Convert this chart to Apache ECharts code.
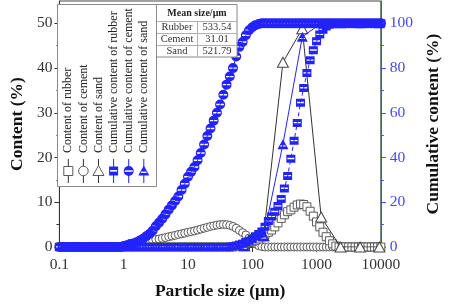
<!DOCTYPE html>
<html>
<head>
<meta charset="utf-8">
<script src="https://cdn.jsdelivr.net/npm/echarts@6/dist/echarts.min.js"></script>
<style>html,body{margin:0;padding:0;background:#fff}#c{width:450px;height:305px}</style>
</head>
<body>
<div id="c"></div>
<script>
// particle sizes (μm)
const sizes = [
0.1,0.112,0.126,0.141,0.158,0.178,0.2,0.224,0.251,0.282,
0.316,0.355,0.398,0.447,0.501,0.562,0.631,0.708,0.794,0.891,
1,1.12,1.26,1.41,1.58,1.78,2,2.24,2.51,2.82,
3.16,3.55,3.98,4.47,5.01,5.62,6.31,7.08,7.94,8.91,
10,11.2,12.6,14.1,15.8,17.8,20,22.4,25.1,28.2,
31.6,35.5,39.8,44.7,50.1,56.2,63.1,70.8,79.4,89.1,
100,112,126,141,158,178,200,224,251,282,
316,355,398,447,501,562,631,708,794,891,
1000,1122,1259,1413,1585,1778,1995,2239,2512,2818,
3162,3548,3981,4467,5012,5623,6310,7079,7943,8913,
10000];
const rubberContent = [
0,0,0,0,0,0,0,0,0,0,
0,0,0,0,0,0,0,0,0,0,
0,0,0,0,0,0,0,0,0,0,
0,0,0,0,0,0,0,0,0,0,
0,0,0,0,0,0,0,0,0,0,
0,0,0,0,0,0.2,0.4,0.6,0.8,1.0,
1.2,1.5,1.8,2.3,2.8,3.3,3.8,4.5,5.4,6.4,
7.2,7.9,8.3,8.9,9.4,9.6,9.5,9.0,8.0,6.9,
5.6,4.5,3.3,2.3,1.4,0.7,0.2,0,0,0,
0,0,0,0,0,0,0,0,0,0,
0];
const cementContent = [
0,0,0,0,0,0,0,0,0,0,
0,0,0,0,0,0,0,0,0,0,
0.2,0.3,0.4,0.5,0.6,0.7,0.85,1.05,1.25,1.5,
1.7,1.8,1.95,2.1,2.3,2.45,2.6,2.8,2.95,3.1,
3.3,3.45,3.6,3.8,4.0,4.2,4.4,4.6,4.75,4.9,
5.0,5.05,5.0,4.85,4.6,4.2,3.7,3.2,2.7,2.0,
1.3,0.7,0.3,0.1,0,0,0,0,0,0,
0,0,0,0,0,0,0,0,0,0,
0,0,0,0,0,0,0,0,0,0,
0,0,0,0,0,0,0,0,0,0,
0];
const rubberCum = [
0,0,0,0,0,0,0,0,0,0,
0,0,0,0,0,0,0,0,0,0,
0,0,0,0,0,0,0,0,0,0,
0,0,0,0,0,0,0,0,0,0,
0,0,0,0,0,0,0,0,0,0,
0,0,0,0.1,0.3,0.6,1.0,1.5,2.2,2.8,
3.6,4.8,5.8,6.9,9.0,11.6,13.6,15.8,18.3,21.5,
26.2,31.8,39.5,47.5,55.5,64.5,71.1,77.8,83.5,88.0,
92.0,95.0,97.2,98.6,99.4,99.8,100,100,100,100,
100,100,100,100,100,100,100,100,100,100,
100];
const cementCum = [
0,0,0,0,0,0,0,0,0,0,
0,0,0,0,0,0,0,0,0,0,
0.5,0.8,1.3,1.6,2.1,2.9,3.7,4.8,5.8,7.3,
9.3,10.9,12.6,14.6,16.7,18.6,20.6,22.6,25.5,28.3,
31.4,33.6,35.8,38.8,42.0,45.8,49.6,53.0,56.5,60.0,
63.7,68.1,72.6,76.2,80.0,85.2,89.5,91.7,94.7,96.9,
98.3,99.2,99.7,100,100,100,100,100,100,100,
100,100,100,100,100,100,100,100,100,100,
100,100,100,100,100,100,100,100,100,100,
100,100,100,100,100,100,100,100,100,100,
100];
const sandSizes = [75,150,300,600,1180,2360,4750,9500];
const sandContent = [0.3,2.5,41.3,48.8,6.7,0,0,0];
const sandCum = [0.3,4.8,46,94,100,100,100,100];

const seriesNames = ['Content of rubber','Content of cement','Content of sand',
  'Cumulative content of rubber','Cumulative content of cement','Cumulative content of sand'];
const xTicks = [0.1,1,10,100,1000,10000];
const leftTicks = [0,10,20,30,40,50];
const rightTicks = [0,20,40,60,80,100];
const tableRows = [['Rubber','533.54'],['Cement','31.01'],['Sand','521.79']];
const tableTitle = 'Mean size/μm';

const FONT = "'Liberation Serif','Times New Roman',serif";
const BLUE = '#2323ff';
const AXBLUE = '#4646ff';
const GRAY = '#5a5a5a';

const SQ = 'path://M0,0 L10,0 L10,10 L0,10 Z M1.2,3.9 L1.2,5.6 L8.8,5.6 L8.8,3.9 Z';
const CI = 'path://M0,5 A5,5 0 1,1 10,5 A5,5 0 1,1 0,5 Z M1.2,4.3 L1.2,5.7 L8.8,5.7 L8.8,4.3 Z';
const TR = 'path://M5,0 L10,9 L0,9 Z M2.9,5.5 L2.4,6.6 L7.6,6.6 L7.1,5.5 Z';

function pairs(xs, ys){ return xs.map((x,i)=>[x, ys[i]]); }

const minorX = [];
for (let e=-1; e<4; e++) for (let m=2; m<=9; m++) minorX.push(+(m*Math.pow(10,e)).toPrecision(3));

const chart = echarts.init(document.getElementById('c'), null, {renderer:'canvas'});

const openStyle = {color:'#fff', borderColor:GRAY, borderWidth:1};
const blueStyle = {color:BLUE, borderWidth:0};

const legendX = [68.3,83.4,98.5,113.6,128.7,143.8];
const LY = 171;
const graphics = [];
graphics.push({type:'rect', shape:{x:57.5,y:4.5,width:99,height:182}, style:{fill:'#fff',stroke:'#8a8a8a',lineWidth:1}, z:100});
seriesNames.forEach((n,i)=>{
  graphics.push({type:'text', x:legendX[i], y:153, rotation:Math.PI/2, z:101,
    style:{text:n, fontSize:12, fontFamily:FONT, fill:'#222', align:'left', verticalAlign:'middle'}});
  const col = i<3 ? '#333' : BLUE;
  graphics.push({type:'line', shape:{x1:legendX[i],y1:159,x2:legendX[i],y2:183}, style:{stroke:col,lineWidth:1}, z:101});
});
graphics.push({type:'rect', shape:{x:legendX[0]-4.5,y:LY-4.5,width:9,height:9}, style:{fill:'#fff',stroke:GRAY,lineWidth:1}, z:102});
graphics.push({type:'circle', shape:{cx:legendX[1],cy:LY,r:4.8}, style:{fill:'#fff',stroke:GRAY,lineWidth:1}, z:102});
graphics.push({type:'polygon', shape:{points:[[legendX[2],LY-5.5],[legendX[2]+5.5,LY+4.5],[legendX[2]-5.5,LY+4.5]]}, style:{fill:'#fff',stroke:GRAY,lineWidth:1}, z:102});
// blue striped symbols
graphics.push({type:'rect', shape:{x:legendX[3]-4.5,y:LY-4.5,width:9,height:9}, style:{fill:BLUE}, z:102});
graphics.push({type:'rect', shape:{x:legendX[3]-3.5,y:LY-1,width:7,height:1.6}, style:{fill:'#fff'}, z:103});
graphics.push({type:'circle', shape:{cx:legendX[4],cy:LY,r:5}, style:{fill:BLUE}, z:102});
graphics.push({type:'rect', shape:{x:legendX[4]-4,y:LY-0.7,width:8,height:1.5}, style:{fill:'#fff'}, z:103});
graphics.push({type:'polygon', shape:{points:[[legendX[5],LY-5.5],[legendX[5]+5.5,LY+4.5],[legendX[5]-5.5,LY+4.5]]}, style:{fill:BLUE}, z:102});
graphics.push({type:'rect', shape:{x:legendX[5]-2.8,y:LY+0.6,width:5.6,height:1.3}, style:{fill:'#fff'}, z:103});
// table
const tx0=157, tx1=237, tdiv=197, ty=[4.5,21,33,45,57];
graphics.push({type:'rect', shape:{x:tx0-0.5,y:ty[0],width:tx1-tx0+0.5,height:ty[4]-ty[0]}, style:{fill:'#fff',stroke:'#8a8a8a',lineWidth:1}, z:100});
for (let r=1;r<4;r++) graphics.push({type:'line', shape:{x1:tx0,y1:ty[r]+0.5,x2:tx1,y2:ty[r]+0.5}, style:{stroke:'#b0b0b0',lineWidth:1}, z:101});
graphics.push({type:'line', shape:{x1:tdiv+0.5,y1:ty[1],x2:tdiv+0.5,y2:ty[4]}, style:{stroke:'#b0b0b0',lineWidth:1}, z:101});
graphics.push({type:'text', x:(tx0+tx1)/2, y:(ty[0]+ty[1])/2+0.5, z:102,
  style:{text:tableTitle, fontSize:10, fontWeight:'bold', fontFamily:FONT, fill:'#222', align:'center', verticalAlign:'middle'}});
tableRows.forEach((row,r)=>{
  const cy = (ty[r+1]+ty[r+2])/2+0.5;
  graphics.push({type:'text', x:(tx0+tdiv)/2, y:cy, z:102, style:{text:row[0], fontSize:10.5, fontFamily:FONT, fill:'#333', align:'center', verticalAlign:'middle'}});
  graphics.push({type:'text', x:(tdiv+tx1)/2, y:cy, z:102, style:{text:row[1], fontSize:10.5, fontFamily:FONT, fill:'#333', align:'center', verticalAlign:'middle'}});
});

const fmt = v => String(+(+v).toPrecision(6));

chart.setOption({
  animation:false,
  backgroundColor:'#fff',
  grid:{left:54, right:58, top:1, bottom:56, show:true, borderColor:'#444', borderWidth:1, backgroundColor:'transparent'},
  xAxis:[{
    type:'log', logBase:10, min:0.1, max:10000,
    name:'Particle size (μm)', nameLocation:'middle', nameGap:35,
    nameTextStyle:{fontFamily:FONT, fontSize:17.5, fontWeight:'bold', color:'#111'},
    axisLine:{lineStyle:{color:'#333',width:1}},
    axisTick:{show:true, length:5, inside:false, customValues:xTicks, lineStyle:{color:'#333'}},
    axisLabel:{customValues:xTicks, formatter:fmt, fontFamily:FONT, fontSize:15.5, color:'#333', margin:10},
    splitLine:{show:false}
  },{
    type:'log', logBase:10, min:0.1, max:10000, position:'bottom',
    axisLine:{show:false}, axisLabel:{show:false}, splitLine:{show:false},
    axisTick:{show:true, length:3, customValues:minorX, lineStyle:{color:'#333'}}
  }],
  yAxis:[{
    type:'value', min:0, max:55, interval:10, position:'left',
    name:'Content (%)', nameLocation:'middle', nameGap:30, nameRotate:90,
    nameTextStyle:{fontFamily:FONT, fontSize:17.5, fontWeight:'bold', color:'#111'},
    axisLine:{show:true, lineStyle:{color:'#333'}},
    axisTick:{show:true, length:5, customValues:leftTicks, lineStyle:{color:'#333'}},
    axisLabel:{customValues:leftTicks, fontFamily:FONT, fontSize:15.5, color:'#333', margin:7},
    splitLine:{show:false}
  },{
    type:'value', min:0, max:110, interval:20, position:'right',
    name:'Cumulative content (%)', nameLocation:'middle', nameGap:41, nameRotate:90,
    nameTextStyle:{fontFamily:FONT, fontSize:17.5, fontWeight:'bold', color:'#111'},
    axisLine:{show:true, lineStyle:{color:AXBLUE}},
    axisTick:{show:true, length:5, customValues:rightTicks, lineStyle:{color:AXBLUE}},
    axisLabel:{customValues:rightTicks, fontFamily:FONT, fontSize:15.5, color:AXBLUE, margin:9},
    splitLine:{show:false}
  },{
    type:'value', min:0, max:55, position:'left',
    axisLine:{show:false}, axisLabel:{show:false}, splitLine:{show:false},
    axisTick:{show:true, length:3, customValues:[5,15,25,35,45], lineStyle:{color:'#333'}}
  },{
    type:'value', min:0, max:110, position:'right',
    axisLine:{show:false}, axisLabel:{show:false}, splitLine:{show:false},
    axisTick:{show:true, length:3, customValues:[10,30,50,70,90], lineStyle:{color:AXBLUE}}
  }],
  graphic:graphics,
  series:[
    {name:seriesNames[1], type:'line', yAxisIndex:0, data:pairs(sizes,cementContent), symbol:'circle', symbolSize:8, showAllSymbol:true,
      itemStyle:openStyle, lineStyle:{color:GRAY,width:0.8}, z:2},
    {name:seriesNames[0], type:'line', yAxisIndex:0, data:pairs(sizes,rubberContent), symbol:'rect', symbolSize:8, showAllSymbol:true,
      itemStyle:openStyle, lineStyle:{color:GRAY,width:0.8}, z:2},
    {name:seriesNames[2], type:'line', yAxisIndex:0, data:pairs(sandSizes,sandContent), symbol:'triangle', symbolSize:[11,10], showAllSymbol:true,
      itemStyle:{color:'#fff', borderColor:'#444', borderWidth:1}, lineStyle:{color:'#333',width:1}, z:3},
    {name:seriesNames[4], type:'line', yAxisIndex:1, data:pairs(sizes,cementCum), symbol:CI, symbolSize:[10,10], showAllSymbol:true,
      itemStyle:blueStyle, lineStyle:{color:BLUE,width:1}, z:4},
    {name:seriesNames[3], type:'line', yAxisIndex:1, data:pairs(sizes,rubberCum), symbol:SQ, symbolSize:[9,8], showAllSymbol:true,
      itemStyle:blueStyle, lineStyle:{color:BLUE,width:1,type:[4,3]}, z:4},
    {name:seriesNames[5], type:'line', yAxisIndex:1, data:pairs(sandSizes,sandCum), symbol:TR, symbolSize:[11,10], showAllSymbol:true,
      itemStyle:blueStyle, lineStyle:{color:BLUE,width:1}, z:5}
  ]
});
</script>
</body>
</html>
